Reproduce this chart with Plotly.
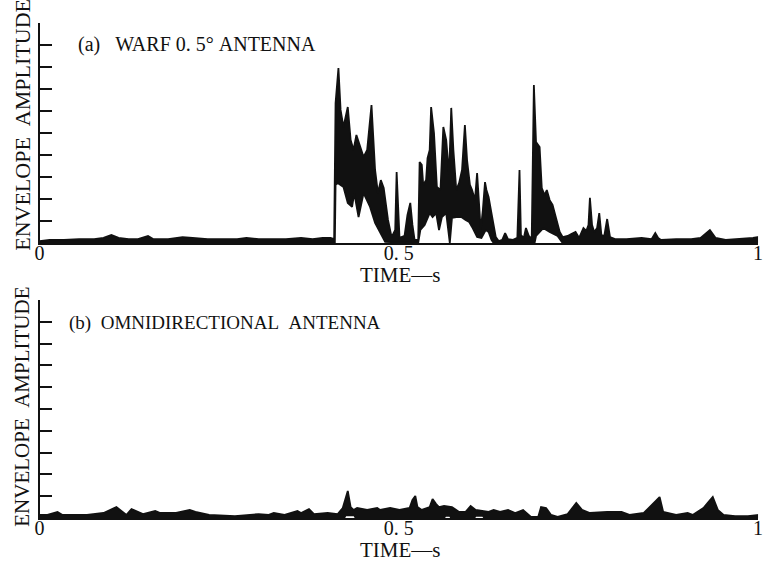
import plotly.graph_objects as go

# ---------------- Panel (a): WARF 0.5 deg antenna ----------------
t_a_upper = [0.000, 0.014, 0.034, 0.055, 0.076, 0.089, 0.100, 0.110, 0.124, 0.137,
             0.151, 0.158, 0.179, 0.199, 0.213, 0.234, 0.254, 0.275, 0.288, 0.305,
             0.323, 0.343, 0.364, 0.380, 0.394, 0.405, 0.410,
             0.412, 0.416, 0.419, 0.423, 0.426, 0.429, 0.433, 0.437, 0.441, 0.446,
             0.451, 0.456, 0.462, 0.467, 0.471, 0.475, 0.479, 0.485, 0.490, 0.495,
             0.497, 0.501, 0.508, 0.512, 0.516, 0.519, 0.522, 0.527,
             0.529, 0.532, 0.534, 0.538, 0.540, 0.543, 0.545, 0.549, 0.553, 0.558,
             0.562, 0.566, 0.570, 0.573, 0.576, 0.580, 0.584, 0.588, 0.592, 0.595,
             0.599, 0.602, 0.606, 0.609, 0.611, 0.614, 0.617, 0.620, 0.622, 0.625,
             0.629, 0.632, 0.635, 0.639, 0.644, 0.648, 0.652, 0.659, 0.665,
             0.668, 0.670, 0.674, 0.677, 0.681, 0.685,
             0.688, 0.691, 0.694, 0.696, 0.699, 0.703, 0.706, 0.710, 0.714, 0.718,
             0.721, 0.724, 0.728, 0.735, 0.740, 0.746, 0.751, 0.757, 0.761, 0.764,
             0.766, 0.769, 0.772, 0.776, 0.779, 0.782, 0.786, 0.790, 0.794, 0.801,
             0.817, 0.838, 0.852, 0.854, 0.857, 0.861, 0.865, 0.886, 0.907, 0.920,
             0.927, 0.933, 0.937, 0.941, 0.955, 0.975, 0.993, 1.000]
amp_a_upper = [0.09, 0.14, 0.14, 0.18, 0.18, 0.23, 0.36, 0.23, 0.18, 0.18,
               0.32, 0.18, 0.18, 0.27, 0.23, 0.18, 0.18, 0.18, 0.23, 0.18,
               0.18, 0.18, 0.23, 0.18, 0.23, 0.23, 0.18,
               6.36, 7.95, 6.05, 5.27, 5.82, 6.18, 4.68, 4.23, 4.91, 4.45,
               3.91, 4.23, 6.27, 3.32, 2.27, 2.86, 2.50, 1.05, 0.27, 0.59,
               3.23, 0.23, 0.32, 1.27, 1.82, 0.82, 0.14, 0.14,
               3.68, 3.55, 2.64, 2.86, 3.86, 4.23, 6.18, 5.00, 2.55, 2.41,
               5.27, 4.68, 3.09, 6.14, 4.23, 2.41, 2.73, 3.32, 5.36, 3.77,
               2.64, 2.41, 1.95, 3.18, 2.18, 0.59, 1.50, 2.77, 2.41, 2.09,
               1.36, 0.82, 0.27, 0.09, 0.14, 0.45, 0.18, 0.14, 0.23,
               3.32, 0.36, 0.23, 0.68, 0.32, 0.18,
               7.18, 4.59, 4.45, 4.36, 2.50, 2.18, 2.41, 1.95, 1.73, 1.27,
               0.95, 0.50, 0.27, 0.32, 0.41, 0.50, 0.23, 0.68, 0.55, 0.82,
               2.05, 0.82, 0.50, 0.68, 1.36, 0.36, 0.32, 1.09, 0.27, 0.18,
               0.18, 0.23, 0.18, 0.32, 0.45, 0.23, 0.14, 0.18, 0.18, 0.23,
               0.41, 0.59, 0.41, 0.23, 0.14, 0.18, 0.23, 0.27]

t_a_lower = [0.000, 0.411, 0.412, 0.415, 0.423, 0.429, 0.435, 0.438, 0.444, 0.451,
             0.455, 0.460, 0.467, 0.474, 0.481, 0.527, 0.530, 0.536, 0.543, 0.547,
             0.552, 0.556, 0.560, 0.566, 0.570, 0.571, 0.574, 0.580, 0.587, 0.593,
             0.598, 0.602, 0.609, 0.615, 0.621, 0.625, 0.629, 0.632, 0.689, 0.691,
             0.701, 0.710, 0.721, 0.728, 1.000]
amp_a_lower = [0.00, 0.00, 2.64, 2.73, 2.55, 1.82, 1.64, 2.27, 1.18, 2.27,
               1.95, 1.64, 0.91, 0.50, 0.05, 0.00, 0.59, 0.82, 1.36, 1.18,
               1.36, 0.59, 1.18, 1.36, 0.27, 0.00, 1.14, 1.18, 1.18, 1.05,
               0.95, 0.73, 0.27, 0.23, 0.59, 0.50, 0.14, 0.00, 0.00, 0.32,
               0.68, 0.50, 0.32, 0.00, 0.00]

# ---------------- Panel (b): omnidirectional antenna ----------------
t_b_upper = [0.000, 0.011, 0.025, 0.032, 0.066, 0.089, 0.107, 0.121, 0.128, 0.144,
             0.161, 0.168, 0.190, 0.209, 0.217, 0.236, 0.272, 0.305, 0.319, 0.326,
             0.341, 0.359, 0.364, 0.375, 0.382, 0.401, 0.415, 0.422, 0.429, 0.433,
             0.437, 0.442, 0.456, 0.470, 0.474, 0.488, 0.501, 0.515, 0.519, 0.523,
             0.526, 0.532, 0.543, 0.547, 0.552, 0.556, 0.563, 0.574, 0.584, 0.593,
             0.600, 0.607, 0.625, 0.632, 0.641, 0.652, 0.662, 0.673, 0.684, 0.694,
             0.698, 0.705, 0.712, 0.721, 0.735, 0.747, 0.755, 0.766, 0.790, 0.810,
             0.821, 0.841, 0.863, 0.868, 0.886, 0.902, 0.909, 0.924, 0.930, 0.937,
             0.944, 0.952, 0.968, 0.986, 1.000]
amp_b_upper = [0.14, 0.14, 0.28, 0.14, 0.14, 0.23, 0.50, 0.14, 0.41, 0.18,
               0.32, 0.23, 0.23, 0.37, 0.28, 0.14, 0.09, 0.18, 0.14, 0.23,
               0.14, 0.32, 0.23, 0.41, 0.18, 0.23, 0.18, 0.46, 1.24, 0.50,
               0.37, 0.46, 0.37, 0.46, 0.37, 0.46, 0.37, 0.46, 0.83, 1.01,
               0.50, 0.37, 0.50, 0.87, 0.64, 0.50, 0.55, 0.50, 0.28, 0.28,
               0.55, 0.37, 0.28, 0.37, 0.28, 0.37, 0.23, 0.37, 0.05, 0.05,
               0.50, 0.46, 0.14, 0.05, 0.18, 0.69, 0.37, 0.23, 0.28, 0.28,
               0.14, 0.23, 0.96, 0.28, 0.14, 0.23, 0.14, 0.46, 0.69, 0.96,
               0.37, 0.14, 0.09, 0.09, 0.14]

t_b_lower = [0.000, 0.424, 0.426, 0.438, 0.440, 0.563, 0.565, 0.571, 0.573,
             0.605, 0.607, 0.617, 0.619, 1.000]
amp_b_lower = [0.00, 0.00, 0.12, 0.12, 0.00, 0.00, 0.10, 0.10, 0.00,
               0.00, 0.10, 0.10, 0.00, 0.00]

x_ticks = [0, 0.5, 1]
x_ticktext = ["0", "0. 5", "1"]
y_ticks = list(range(0, 11))

INK = "#111111"
FONT = "Liberation Serif"

fig = go.Figure()


def band(t_up, a_up, t_lo, a_lo, xa, ya):
    xs = list(t_up) + list(reversed(t_lo))
    ys = list(a_up) + list(reversed(a_lo))
    fig.add_trace(go.Scatter(x=xs, y=ys, mode="lines", fill="toself",
                             fillcolor=INK, line=dict(color=INK, width=1.8),
                             xaxis=xa, yaxis=ya, showlegend=False,
                             hoverinfo="skip"))


band(t_a_upper, amp_a_upper, t_a_lower, amp_a_lower, "x", "y")
band(t_b_upper, amp_b_upper, t_b_lower, amp_b_lower, "x2", "y2")

xdom = [35 / 766, 763 / 766]
common_x = dict(range=[0, 1], showline=True, linecolor=INK, linewidth=1.6,
                showgrid=False, zeroline=False, ticks="",
                tickvals=x_ticks, ticktext=x_ticktext,
                ticklabelstandoff=-9, ticklabeloverflow="allow",
                tickfont=dict(family=FONT, size=20, color=INK), domain=xdom)
common_y = dict(range=[0, 10], showline=True, linecolor=INK, linewidth=2,
                showgrid=False, zeroline=False, ticks="inside", ticklen=12,
                tickwidth=1.5, tickcolor=INK, tickvals=y_ticks,
                showticklabels=False)

fig.update_layout(
    width=766, height=563,
    margin=dict(l=0, r=0, t=0, b=0),
    paper_bgcolor="white", plot_bgcolor="white",
    font=dict(family=FONT, size=20, color=INK),
    xaxis=dict(common_x, anchor="y"),
    yaxis=dict(common_y, anchor="x", domain=[1 - 243 / 563, 1 - 23 / 563]),
    xaxis2=dict(common_x, anchor="y2"),
    yaxis2=dict(common_y, anchor="x2", domain=[1 - 518 / 563, 1 - 300 / 563]),
)

NB = "\u00a0"
annots = [
    dict(text="(a)" + NB + NB + NB + "WARF 0. 5°" + NB + "ANTENNA", size=20,
         x=72 / 766, y=1 - 45 / 563, xanchor="left", yanchor="middle"),
    dict(text="(b)" + NB + NB + "OMNIDIRECTIONAL" + NB + NB + "ANTENNA", size=19,
         x=63 / 766, y=1 - 323 / 563, xanchor="left", yanchor="middle"),
    dict(text="TIME—s", size=21, x=401 / 766, y=1 - 275 / 563, xanchor="center",
         yanchor="middle"),
    dict(text="TIME—s", size=21, x=401 / 766, y=1 - 550 / 563, xanchor="center",
         yanchor="middle"),
    dict(text="ENVELOPE" + NB + NB + "AMPLITUDE", size=22, textangle=-90,
         x=17 / 766, y=1 - 125 / 563, xanchor="center", yanchor="middle"),
    dict(text="ENVELOPE" + NB + NB + "AMPLITUDE", size=21, textangle=-90,
         x=17 / 766, y=1 - 407 / 563, xanchor="center", yanchor="middle"),
]
for a in annots:
    sz = a.pop("size")
    a.update(xref="paper", yref="paper", showarrow=False,
             font=dict(family=FONT, size=sz, color=INK))
    fig.add_annotation(**a)

fig.write_html("out.html")
